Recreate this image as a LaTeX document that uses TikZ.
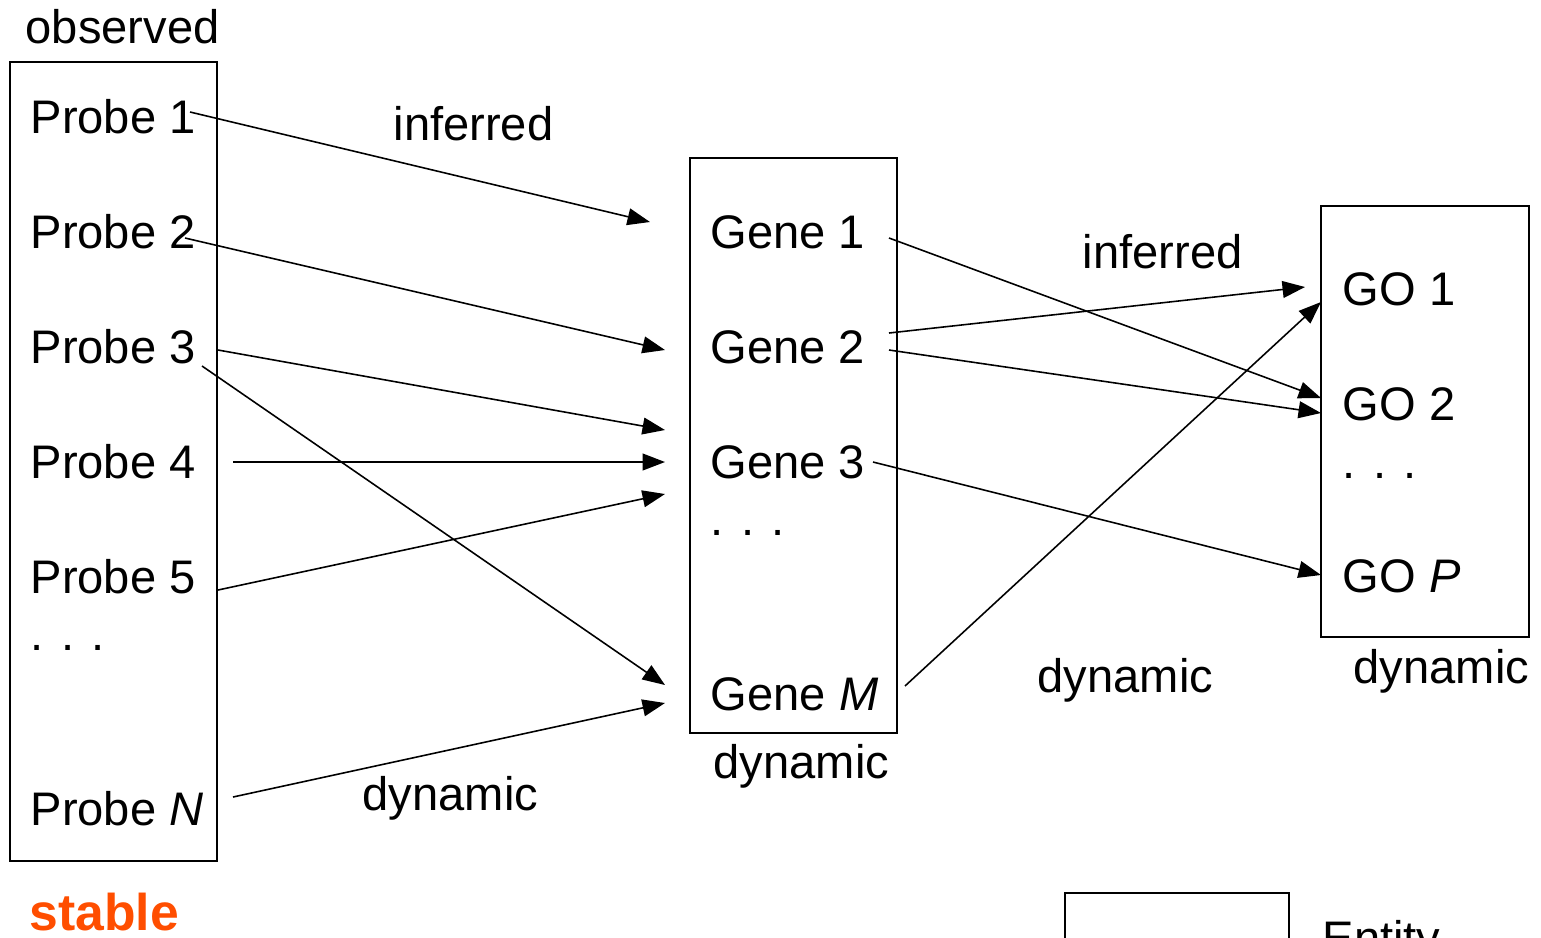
\documentclass[tikz,border=0pt]{standalone}
\usepackage{fontspec}
\setmainfont{Liberation Sans}
\usetikzlibrary{arrows.meta}
\definecolor{stableorange}{HTML}{FF4E00}
\begin{document}
\begin{tikzpicture}[x=0.1mm,y=-0.1mm,
  every node/.style={font=\fontsize{13.4pt}{16pt}\selectfont},
  lbl/.style={anchor=base west,inner sep=0pt},
  arr/.style={line width=0.45pt,-{Triangle[length=6.4pt,width=4.8pt]}}]
\useasboundingbox (0,0) rectangle (1541,937);
\clip (0,0) rectangle (1541,937);

% entity boxes
\draw[line width=0.6pt] (10,62) rectangle (217,861);
\draw[line width=0.6pt] (690,158) rectangle (897,733);
\draw[line width=0.6pt] (1321,206) rectangle (1529,637);
\draw[line width=0.6pt] (1065,893) rectangle (1289,1000);

% labels
\node[lbl] (obs) at (25,43) {observed};
\node[lbl] (p1) at (30,133) {Probe 1};
\node[lbl] (p2) at (30,248) {Probe 2};
\node[lbl] (p3) at (30,363) {Probe 3};
\node[lbl] (p4) at (30,478) {Probe 4};
\node[lbl] (p5) at (30,593) {Probe 5};
\node[lbl] (pd) at (30,650) {. . .};
\node[lbl] (pN) at (30,825) {Probe \textit{N}};

\node[lbl] (g1) at (710,248) {Gene 1};
\node[lbl] (g2) at (710,363) {Gene 2};
\node[lbl] (g3) at (710,478) {Gene 3};
\node[lbl] (gd) at (710,535) {. . .};
\node[lbl] (gM) at (710,710) {Gene \textit{M}};

\node[lbl] (o1) at (1342,305) {GO 1};
\node[lbl] (o2) at (1342,420) {GO 2};
\node[lbl] (od) at (1342,478) {. . .};
\node[lbl] (oP) at (1342,592) {GO \textit{P}};

\node[lbl] (inf1) at (393,140) {inferred};
\node[lbl] (inf2) at (1082,268) {inferred};
\node[lbl] (dyn1) at (362,810) {dynamic};
\node[lbl] (dyn2) at (713,778) {dynamic};
\node[lbl] (dyn3) at (1037,692) {dynamic};
\node[lbl] (dyn4) at (1353,683) {dynamic};
\node[lbl,text=stableorange,font=\fontsize{14.7pt}{17pt}\selectfont\bfseries] (stable) at (29,930) {stable};
\node[lbl] (entity) at (1322,954) {Entity};

% connector end points
\coordinate (a1s) at (190,112);  \coordinate (a1e) at (650,222);
\coordinate (a2s) at (185,238);  \coordinate (a2e) at (665,350);
\coordinate (a3s) at (218,350);  \coordinate (a3e) at (665,430);
\coordinate (a4s) at (202,366);  \coordinate (a4e) at (665,685);
\coordinate (a5s) at (233,462);  \coordinate (a5e) at (665,462);
\coordinate (a6s) at (218,590);  \coordinate (a6e) at (665,494);
\coordinate (a7s) at (233,797);  \coordinate (a7e) at (665,703);
\coordinate (b1s) at (889,238);  \coordinate (b1e) at (1321,398);
\coordinate (b2s) at (889,333);  \coordinate (b2e) at (1305,287);
\coordinate (b3s) at (889,350);  \coordinate (b3e) at (1321,413);
\coordinate (b4s) at (873,462);  \coordinate (b4e) at (1321,575);
\coordinate (b5s) at (905,686);  \coordinate (b5e) at (1321,302);

% probe -> gene
\draw[arr] (a1s) -- (a1e);
\draw[arr] (a2s) -- (a2e);
\draw[arr] (a3s) -- (a3e);
\draw[arr] (a4s) -- (a4e);
\draw[arr] (a5s) -- (a5e);
\draw[arr] (a6s) -- (a6e);
\draw[arr] (a7s) -- (a7e);
% gene -> GO
\draw[arr] (b1s) -- (b1e);
\draw[arr] (b2s) -- (b2e);
\draw[arr] (b3s) -- (b3e);
\draw[arr] (b4s) -- (b4e);
\draw[arr] (b5s) -- (b5e);
\end{tikzpicture}
\end{document}
